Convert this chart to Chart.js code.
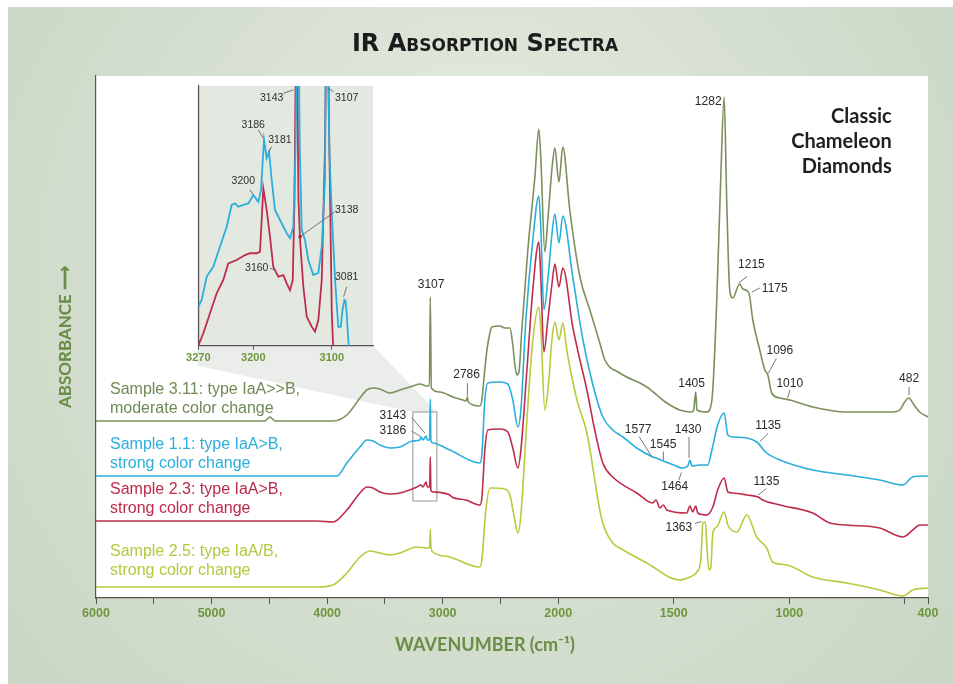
<!DOCTYPE html>
<html>
<head>
<meta charset="utf-8">
<script src="https://cdn.jsdelivr.net/npm/chart.js@4.4.1/dist/chart.umd.min.js"></script>
<style>
  html, body { margin: 0; padding: 0; background: #ffffff; }
  #wrap { position: relative; width: 953px; height: 684px; overflow: hidden; }
  #main { position: absolute; left: 0; top: 0; }
  #inset { position: absolute; left: 178px; top: 84px; }
</style>
</head>
<body>
<div id="wrap">
  <canvas id="main" width="953" height="684"></canvas>
  <canvas id="inset" width="200" height="290"></canvas>
</div>
<script>
// ---------------- DATA ----------------
// x-axis ticks (cm-1); the axis is compressed 2x above 2000 cm-1
const xTickValues = [6000, 5500, 5000, 4500, 4000, 3500, 3000, 2500, 2000, 1500, 1000, 500, 400];
const xTickLabels = [6000, 5000, 4000, 3000, 2000, 1500, 1000, 400];
const insetTickValues = [3270, 3200, 3100];

const sampleNames = ['Sample 3.11: type IaA>>B,', 'Sample 1.1: type IaA>B,', 'Sample 2.3: type IaA>B,', 'Sample 2.5: type IaA/B,'];
const sampleNotes = ['moderate color change', 'strong color change', 'strong color change', 'strong color change'];

// [wavenumber cm-1, absorbance (arbitrary, offset)]
const s311 = [[6000,35.4],[4540,35.4],[4495,36.2],[4450,35.4],[3950,35.4],[3829,36.6],[3716,40],[3656,41.6],[3604,42],[3543,41.8],[3457,41],[3370,41.6],[3258,42.4],[3197,42.8],[3137,42.4],[3115,42.4],[3107,60.2],[3098,42],[3024,41.2],[2912,40.2],[2825,39.6],[2799,39.4],[2786,40.2],[2778,39.2],[2678,38.4],[2661,39.6],[2644,43.6],[2617,49.6],[2591,53],[2574,54.2],[2505,54.4],[2462,54],[2418,54],[2393,50.6],[2375,46.6],[2358,44.6],[2340,45.2],[2315,53.6],[2263,69.6],[2202,84.2],[2168,93.8],[2150,87.6],[2116,69.2],[2090,75.6],[2055,85.6],[2029,90],[1997,83.2],[1980,90.2],[1950,77.6],[1906,64.2],[1863,57.6],[1820,51],[1798,47.6],[1733,45],[1617,42.2],[1530,39],[1474,37.6],[1422,37.2],[1414,37.6],[1405,41.2],[1400,37.6],[1357,37.2],[1335,39.6],[1314,59.6],[1297,83.6],[1282,100.2],[1271,79.6],[1258,61.6],[1245,60],[1215,62.8],[1201,61.8],[1175,61],[1158,55.6],[1128,49.6],[1106,45.6],[1093,44.6],[1076,41],[1041,40],[998,39.6],[899,38.2],[752,37.2],[553,37.2],[522,37.6],[501,39.2],[482,40],[466,39],[436,37.2],[400,36.2]];

const s11 = [[6000,24.4],[3915,24.4],[3829,27],[3716,30.2],[3656,31.6],[3604,31.4],[3543,30.6],[3457,30],[3370,30.2],[3258,31.4],[3197,31.6],[3186,32.2],[3171,31.6],[3143,32.4],[3133,31.6],[3113,31.6],[3107,39.8],[3102,31.4],[3085,31],[2938,29.6],[2678,27],[2661,28.6],[2635,39.6],[2609,43],[2505,43.2],[2436,42.8],[2393,39.6],[2349,34.2],[2323,37.6],[2280,55.6],[2220,71.6],[2168,80.4],[2150,73.6],[2124,57.6],[2090,63.6],[2055,72.6],[2029,76.8],[1997,71],[1980,76.4],[1937,64.2],[1893,51.6],[1850,42.6],[1807,36.2],[1764,33.6],[1720,32.2],[1660,30],[1591,28.2],[1577,28],[1545,27.4],[1500,26.6],[1464,26],[1439,26.4],[1430,27.6],[1422,26.4],[1387,26.6],[1353,26.6],[1335,29.6],[1310,34.6],[1282,37],[1266,32.6],[1245,32.2],[1184,32],[1141,31.2],[1098,29],[1041,27.6],[899,25.6],[752,24.6],[609,23.6],[509,22.6],[466,24.2],[400,24.4]];

const s23 = [[6000,15.4],[4088,15.4],[3950,15.2],[3829,17.6],[3716,21],[3656,22.2],[3604,22],[3543,21.2],[3457,20.8],[3370,21],[3223,22.2],[3186,22.6],[3171,22.2],[3143,23.2],[3133,22.2],[3113,22.2],[3107,28.2],[3102,21.6],[3085,21.2],[2938,20.6],[2920,20.2],[2799,19.6],[2678,18.6],[2661,20],[2635,29.6],[2609,33.6],[2505,33.8],[2436,33.2],[2393,30],[2349,26],[2323,29.6],[2271,45.6],[2220,61.6],[2168,71.2],[2150,63.6],[2124,49.2],[2090,55.6],[2055,62.6],[2029,66.8],[1997,62.2],[1980,66],[1937,54.2],[1906,47.6],[1876,41.6],[1842,33.6],[1807,27],[1764,24.2],[1660,21],[1591,19],[1577,19.6],[1560,18],[1545,18.6],[1530,17.6],[1444,17],[1430,18.4],[1418,17.2],[1405,18.4],[1396,17],[1357,16.6],[1331,18.2],[1310,21.6],[1282,24],[1266,21.2],[1245,21],[1184,20.6],[1135,20.2],[1115,19.6],[1041,18.6],[899,17],[825,15],[752,14.6],[609,14],[509,12.2],[466,13.6],[436,14.6],[400,14.6]];

const s25 = [[6000,2.2],[4088,2.2],[3950,2.6],[3829,5],[3716,8.2],[3630,9.4],[3543,9],[3457,8.6],[3370,9],[3223,10.2],[3137,10],[3113,10],[3107,13.8],[3102,10.4],[3085,9.2],[2938,8.2],[2678,6.2],[2661,7.6],[2626,17.6],[2591,22],[2462,21.8],[2418,20.6],[2384,16.6],[2349,13],[2323,16.6],[2271,35.6],[2220,51.6],[2168,58.2],[2150,53.6],[2116,37.6],[2081,43.6],[2055,51.6],[2029,55.2],[1997,51.6],[1980,55],[1963,49.6],[1919,39.6],[1876,33],[1811,15.6],[1764,11],[1733,10],[1617,7],[1474,3.6],[1430,4.2],[1400,5.2],[1383,7.6],[1374,15],[1363,15.2],[1357,10.6],[1348,5.6],[1340,6],[1331,13],[1314,14.2],[1282,17.2],[1266,14.6],[1227,13.2],[1184,16.6],[1141,12.2],[1098,10],[1072,7.2],[1011,6.6],[899,4.2],[752,3],[609,1.6],[509,0.4],[466,1.6],[400,2]];

// inset (3270-3048 cm-1), samples 1.1 and 2.3
const inset11 = [[3270,15],[3265.7,17.6],[3259.3,26.6],[3250.9,30.4],[3242.4,38.1],[3233.8,45.8],[3227.5,54.2],[3223.2,54.8],[3219,53.5],[3212.7,54.2],[3206.3,54.8],[3199.9,58],[3193.6,55.4],[3190.1,60],[3186.3,79.2],[3182.9,72.2],[3179.9,74.7],[3176.5,63.8],[3172.3,52.3],[3165.9,48.4],[3157.4,43.3],[3153.2,41.4],[3149,45.8],[3146.2,75.4],[3143,140],[3140.7,75.4],[3138.3,44.6],[3134.1,40.7],[3129.9,33],[3123.5,27.2],[3117.1,28],[3112.8,38.1],[3108.6,63.8],[3107,150],[3103.1,75.4],[3100,51.1],[3095.8,25.3],[3091.7,7.3],[3088.6,7.3],[3086.3,13.7],[3084,17.6],[3082.5,17.2],[3081,12.6],[3079,2.2],[3077,-5]];
const inset23 = [[3270,0],[3263.6,4.8],[3255.1,12.5],[3246.6,20.2],[3238.2,25.3],[3231.8,31.7],[3221.1,33],[3210.5,34.9],[3204.1,35.6],[3195.6,35.6],[3191.4,36.2],[3187.2,60.6],[3182.9,52.3],[3178.7,42],[3174.5,30.4],[3168.1,26.6],[3161.7,27.2],[3157.4,24],[3153.2,21.4],[3149.7,25.3],[3147.5,56.1],[3145,140],[3142.4,56.1],[3140.4,40.7],[3136.2,22.7],[3131.9,11.2],[3125.5,7.3],[3121.3,5.4],[3117.1,9.9],[3112.8,25.3],[3108.6,76.6],[3106,150],[3103.1,76.6],[3100,12.6],[3098,-2]];

// peak labels [text, wavenumber, absorbance] and leader lines [w1, a1, w2, a2]
const mainLabels = [['3107',3100,62.6],['2786',2793,44.6],['3143',3431,36.4],['3186',3431,33.4],['1282',1351,99.3],['1215',1164,66.6],['1175',1063,61.9],['1096',1041,49.5],['1010',998,42.9],['482',482,43.9],['1405',1423,42.9],['1577',1654,33.6],['1545',1546,30.6],['1430',1438,33.6],['1464',1496,22.3],['1135',1092,34.4],['1135',1099,23.3],['1363',1478,14.1]];
const mainLeaders = [[2786,43,2786,40.4],[3269,36.1,3154,33],[3269,33.4,3191,32.3],[1183,64.3,1219,63],[1128,62,1162,61.2],[1056,47.9,1092,44.9],[998,41.6,1007,40],[482,42.2,482,40.6],[1650,32.3,1596,28.3],[1545,29.3,1545,27.6],[1434,32.2,1434,28],[1478,23.6,1467,25.1],[1092,32.9,1128,31.3],[1099,21.9,1135,20.6],[1409,14.9,1380,15.3]];
const insetLabels = [['3143',3176.5,95.3],['3107',3081,95.3],['3186',3200,85],['3181',3166,79.2],['3200',3212.7,63.4],['3138',3081,52.3],['3160',3195.6,29.8],['3081',3081,26.6]];
const insetLeaders = [[3161.7,97.2,3149,98.5],[3098,97.8,3104.4,99.1],[3193.6,83.1,3187.2,79.9],[3176.5,76.6,3180,74.7],[3204.1,60,3199.9,58],[3095.9,51.6,3140.4,42],[3178.5,29.8,3172.3,29.1],[3081,22.7,3084.9,18.9]];
const insetMarker = [3140.4, 42];
const zoomBox = [3258, 3050, 37.2, 19.4];   // region shown in the inset
const cornerText = ['Classic', 'Chameleon', 'Diamonds'];

// ---------------- STYLE / LAYOUT ----------------
const lineColors = ['#7b905c', '#2aaedb', '#bf2c4b', '#b7cb3c'];
const textColors = ['#6f8a55', '#2aaedb', '#bc2a49', '#b3c83c'];
const sampleLabelY = [41.7, 30.6, 21.7, 9.3];
const sampleLabelX = 5879;
const cornerAnchor = [557, 96.3];
const axisGreen = '#6e963d';
const titleGreen = '#6a8d45';
const INSET_POS = { left: 178, top: 84 };
const sansFamily = '"Liberation Sans", Arial, sans-serif';

const toXY = arr => arr.map(([x, y]) => ({ x, y }));

// Wavenumber axis with a scale change at 2000 cm-1 (below 2000 spread 2x)
class SplitScale extends Chart.LinearScale {
  _u(v) { return v >= 2000 ? 6000 - v : 4000 + 2 * (2000 - v); }
  getPixelForValue(v) {
    const total = this._u(400) - this._u(6000);
    return this.left + (this.right - this.left) * (this._u(v) - this._u(6000)) / total;
  }
  getValueForPixel(p) {
    const u = (p - this.left) / (this.right - this.left) * 7200;
    return u <= 4000 ? 6000 - u : 2000 - (u - 4000) / 2;
  }
}
SplitScale.id = 'split';
SplitScale.defaults = {};
Chart.register(SplitScale);

// ---------------- INSET CHART ----------------
const insetPlugin = {
  id: 'insetDecor',
  beforeDraw(chart) {
    const { ctx, chartArea: a } = chart;
    ctx.save();
    ctx.fillStyle = '#e3e9e1';
    ctx.fillRect(a.left - 1, a.top, a.right - a.left + 1, a.bottom - a.top);
    ctx.restore();
  },
  afterDatasetsDraw(chart) {
    const { ctx, scales: { x, y } } = chart;
    ctx.save();
    ctx.strokeStyle = '#555';
    ctx.lineWidth = 0.8;
    insetLeaders.forEach(([w1, a1, w2, a2]) => {
      ctx.beginPath();
      ctx.moveTo(x.getPixelForValue(w1), y.getPixelForValue(a1));
      ctx.lineTo(x.getPixelForValue(w2), y.getPixelForValue(a2));
      ctx.stroke();
    });
    ctx.fillStyle = '#b0203f';
    ctx.beginPath();
    ctx.arc(x.getPixelForValue(insetMarker[0]), y.getPixelForValue(insetMarker[1]), 1.8, 0, Math.PI * 2);
    ctx.fill();
    ctx.font = '10.5px ' + sansFamily;
    ctx.fillStyle = '#2e2e2e';
    ctx.textAlign = 'center';
    ctx.textBaseline = 'middle';
    insetLabels.forEach(([t, w, a]) => ctx.fillText(t, x.getPixelForValue(w), y.getPixelForValue(a)));
    ctx.restore();
  }
};

const insetChart = new Chart(document.getElementById('inset'), {
  type: 'line',
  data: {
    datasets: [
      { label: 'Sample 1.1', data: toXY(inset11), borderColor: lineColors[1], borderWidth: 1.8, pointRadius: 0, tension: 0 },
      { label: 'Sample 2.3', data: toXY(inset23), borderColor: lineColors[2], borderWidth: 1.8, pointRadius: 0, tension: 0 }
    ]
  },
  options: {
    responsive: false, animation: false, events: [],
    layout: { padding: { left: 0, top: 2, right: 5, bottom: 0 } },
    plugins: { legend: { display: false }, tooltip: { enabled: false } },
    scales: {
      x: {
        type: 'linear', min: 3047.5, max: 3270, reverse: true, bounds: 'data',
        afterBuildTicks: s => { s.ticks = insetTickValues.map(v => ({ value: v })); },
        afterFit: s => { s.height = 28.3; },
        ticks: { autoSkip: false, maxRotation: 0, padding: 2, color: axisGreen,
                 font: { family: sansFamily, size: 11, weight: 'bold' }, callback: v => String(v) },
        grid: { drawOnChartArea: false, tickLength: 4, color: '#555' },
        border: { color: '#555', width: 1.2 }
      },
      y: {
        min: 0, max: 100,
        afterFit: s => { s.width = 20.3; },
        ticks: { display: false },
        grid: { display: false },
        border: { color: '#555', width: 1.2 }
      }
    }
  },
  plugins: [insetPlugin]
});

// ---------------- MAIN CHART ----------------
const decorPlugin = {
  id: 'decor',
  beforeDraw(chart) {
    const { ctx, chartArea: a, width, height } = chart;
    ctx.save();
    ctx.fillStyle = '#ffffff';
    ctx.fillRect(0, 0, width, height);
    const g = ctx.createRadialGradient(480, 160, 40, 480, 330, 640);
    g.addColorStop(0, '#e2e9de');
    g.addColorStop(1, '#c8d5c2');
    ctx.fillStyle = g;
    ctx.fillRect(8, 7, width - 8, height - 7);
    ctx.fillStyle = '#ffffff';
    ctx.fillRect(a.left, a.top, a.right - a.left, a.bottom - a.top);
    ctx.restore();
  },
  beforeDatasetsDraw(chart) {
    const { ctx, scales: { x, y } } = chart;
    const ia = insetChart.chartArea;
    const L = INSET_POS.left + ia.left - 1, R = INSET_POS.left + ia.right, B = INSET_POS.top + ia.bottom;
    const rl = x.getPixelForValue(zoomBox[0]), rr = x.getPixelForValue(zoomBox[1]);
    const rt = y.getPixelForValue(zoomBox[2]), rb = y.getPixelForValue(zoomBox[3]);
    ctx.save();
    ctx.fillStyle = 'rgba(205,210,206,0.4)';
    ctx.beginPath();
    ctx.moveTo(L, B); ctx.lineTo(R, B); ctx.lineTo(rr, rt); ctx.lineTo(rl, rt); ctx.lineTo(L, B + 20);
    ctx.closePath();
    ctx.fill();
    ctx.strokeStyle = '#a3a6a3';
    ctx.lineWidth = 1.2;
    ctx.strokeRect(rl, rt, rr - rl, rb - rt);
    ctx.restore();
  },
  afterDatasetsDraw(chart) {
    const { ctx, scales: { x, y } } = chart;
    ctx.save();
    ctx.strokeStyle = '#555';
    ctx.lineWidth = 0.8;
    mainLeaders.forEach(([w1, a1, w2, a2]) => {
      ctx.beginPath();
      ctx.moveTo(x.getPixelForValue(w1), y.getPixelForValue(a1));
      ctx.lineTo(x.getPixelForValue(w2), y.getPixelForValue(a2));
      ctx.stroke();
    });
    ctx.font = '12px ' + sansFamily;
    ctx.fillStyle = '#2a2a2a';
    ctx.textAlign = 'center';
    ctx.textBaseline = 'middle';
    mainLabels.forEach(([t, w, a]) => ctx.fillText(t, x.getPixelForValue(w), y.getPixelForValue(a)));

    ctx.font = '16px ' + sansFamily;
    ctx.textAlign = 'left';
    const sx = x.getPixelForValue(sampleLabelX);
    sampleNames.forEach((name, i) => {
      const sy = y.getPixelForValue(sampleLabelY[i]);
      ctx.fillStyle = textColors[i];
      ctx.fillText(name, sx, sy);
      ctx.fillText(sampleNotes[i], sx, sy + 19);
    });

    ctx.font = 'bold 20px Lato, sans-serif';
    ctx.fillStyle = '#1f1f1f';
    ctx.textAlign = 'right';
    const cx = x.getPixelForValue(cornerAnchor[0]), cy = y.getPixelForValue(cornerAnchor[1]);
    cornerText.forEach((t, i) => ctx.fillText(t, cx, cy + i * 25));
    ctx.restore();
  }
};

const seriesData = [s311, s11, s23, s25];
new Chart(document.getElementById('main'), {
  type: 'line',
  data: {
    datasets: seriesData.map((s, i) => ({
      label: sampleNames[i], data: toXY(s), borderColor: lineColors[i],
      borderWidth: 1.6, pointRadius: 0, cubicInterpolationMode: 'monotone'
    }))
  },
  options: {
    responsive: false, animation: false, events: [],
    layout: { padding: { left: 42, right: 25, top: 0, bottom: 0 } },
    plugins: {
      legend: { display: false }, tooltip: { enabled: false },
      title: {
        display: true, text: 'IR Absorption Spectra', color: '#1c1c1c',
        font: { family: '"DejaVu Sans", sans-serif', size: 24, weight: 'small-caps bold', lineHeight: 1.2 },
        padding: { top: 30.6, bottom: 16.6 }
      },
      subtitle: {
        display: true, position: 'bottom', text: 'WAVENUMBER (cm⁻¹)', color: titleGreen,
        font: { family: 'Lato, sans-serif', size: 18, weight: 'bold', lineHeight: 1.2 },
        padding: { top: 6.2, bottom: 28.2 }
      }
    },
    scales: {
      x: {
        type: 'split', min: 400, max: 6000, bounds: 'data',
        afterBuildTicks: s => { s.ticks = xTickValues.map(v => ({ value: v })); },
        afterFit: s => { s.height = 30; },
        ticks: { autoSkip: false, maxRotation: 0, padding: 2, color: axisGreen,
                 font: { family: sansFamily, size: 12.5, weight: 'bold' },
                 callback: v => xTickLabels.includes(v) ? String(v) : '' },
        grid: { drawOnChartArea: false, tickLength: 6, color: '#555' },
        border: { color: '#555', width: 1.2 }
      },
      y: {
        min: 0, max: 104.4,
        afterFit: s => { s.width = 54; },
        ticks: { display: false },
        grid: { display: false },
        border: { color: '#555', width: 1.2 },
        title: { display: true, text: 'ABSORBANCE ⟶', color: titleGreen,
                 font: { family: 'Lato, sans-serif', size: 17, weight: 'bold', lineHeight: 1.2 },
                 padding: { top: 13.8, bottom: 0 } }
      }
    }
  },
  plugins: [decorPlugin]
});
</script>
</body>
</html>
